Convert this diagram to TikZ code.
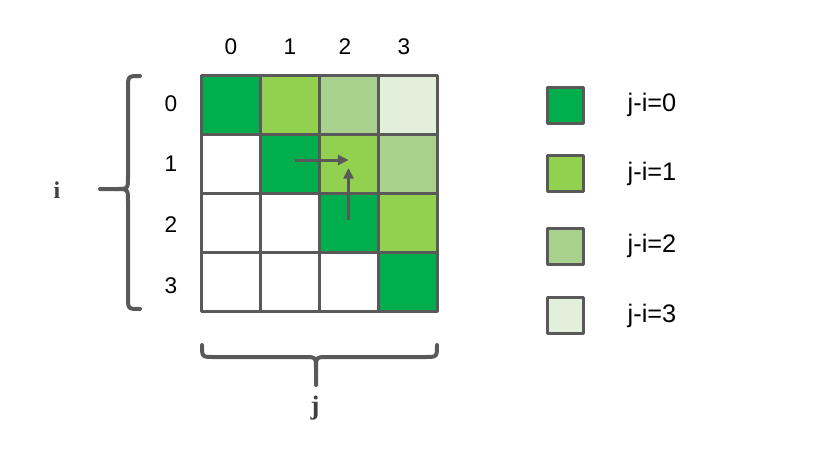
\documentclass[tikz,border=0pt]{standalone}
\usepackage{fontspec}
\setmainfont{Liberation Sans}
\newfontfamily\lettfont{Liberation Serif}
\usetikzlibrary{arrows.meta}
\definecolor{edge}{HTML}{595959}
\definecolor{letter}{HTML}{404040}
\definecolor{diag0}{HTML}{00AE4D}
\definecolor{diag1}{HTML}{92D050}
\definecolor{diag2}{HTML}{A9D18E}
\definecolor{diag3}{HTML}{E2EFDA}
\begin{document}
\begin{tikzpicture}[x=0.75pt,y=-0.75pt,line join=round,line cap=round,>={Triangle[length=8pt,width=7.5pt]}]
			\tikzset{cell/.style={draw=edge,line width=2.25pt,minimum size=44.25pt,inner sep=0pt,outer sep=0pt},
				key/.style={draw=edge,line width=2.25pt,minimum size=27pt,inner sep=0pt},
				num/.style={font=\fontsize{17}{20}\selectfont},
				brace/.style={draw=edge,line width=3pt},
				step arrow/.style={draw=edge,line width=2.25pt,line cap=butt,->}}
			\useasboundingbox (0,0) rectangle (832,451);
			\foreach \i in {0,...,3}
			\foreach \j in {0,...,3}{
				\pgfmathtruncatemacro\d{\j-\i}
				\ifnum\d<0 \def\fc{white}\else \edef\fc{diag\d}\fi
				\node[cell,fill=\fc] (c\i\j) at ({230.5+59*\j},{104.5+59*\i}) {};
			}
			\foreach \j/\x in {0/231,1/290,2/345,3/404}
			\node[num] (col\j) at (\x,47) {\j};
			\foreach \i/\y in {0/104,1/164,2/225,3/286}
			\node[num] (row\i) at (171,\y) {\i};
			\draw[step arrow] ([shift={(5.5,-3.5)}]c11.center) -- ([shift={(0,-3.5)}]c12.center);
			\draw[step arrow] ([shift={(0,-2.5)}]c22.center) -- ([shift={(0,4.5)}]c12.center);
			\path[brace] (140,76) .. controls (128,76) .. (128,88) -- (128,177)
				.. controls (128,189) .. (116,189) -- (100,189);
			\path[brace] (116,189) .. controls (128,189) .. (128,201) -- (128,297)
				.. controls (128,309) .. (140,309);
			\node[text=letter,font=\lettfont\bfseries\fontsize{18}{20}\selectfont] (ilab) at (57,190) {i};
			\path[brace] (202,345) .. controls (202,357) .. (214,357) -- (304,357)
				.. controls (316,357) .. (316,369) -- (316,385);
			\path[brace] (316,369) .. controls (316,357) .. (328,357) -- (425,357)
				.. controls (437,357) .. (437,345);
			\node[text=letter,font=\lettfont\bfseries\fontsize{20}{22}\selectfont] (jlab) at (315,408) {j};
			\foreach \k/\y in {0/105,1/173.5,2/246,3/315.5}{
				\node[key,fill=diag\k] (leg\k) at (565,\y) {};
				\node[num,font=\fontsize{19}{22}\selectfont,anchor=west] (txt\k) at (623,\y) {j-i=\k};
			}
		\end{tikzpicture}
\end{document}
